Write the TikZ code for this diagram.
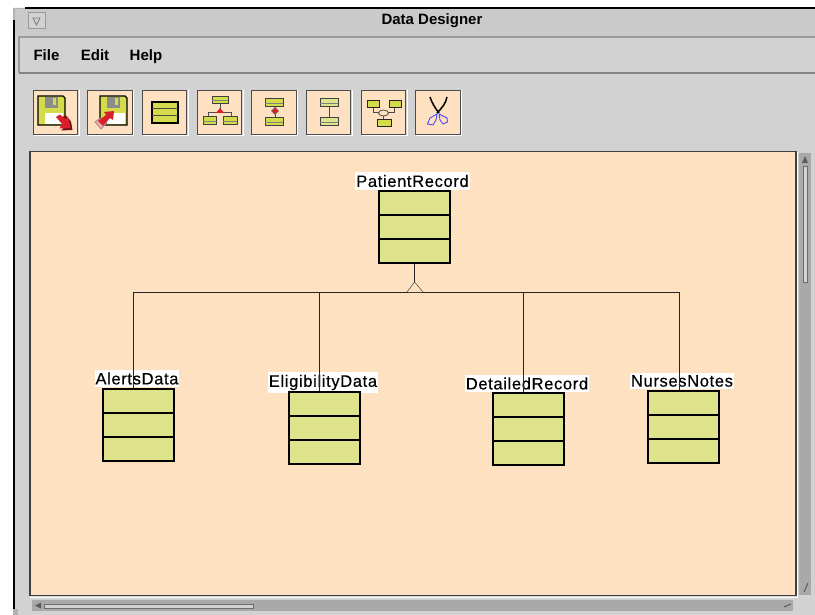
\documentclass[tikz,border=0pt]{standalone}
\usepackage{fontspec}
\setmainfont{Liberation Sans}
\newfontfamily\screenfont[LetterSpace=4, FakeBold=0.4]{Liberation Sans}
\usetikzlibrary{shapes, shapes.geometric}
\definecolor{peach}{HTML}{FEE1C1}
\definecolor{panel}{HTML}{D2D2D2}
\definecolor{edge}{HTML}{9A9A9A}
\definecolor{boxfill}{HTML}{DFE38B}
\definecolor{iconfill}{HTML}{D4DC4C}
\definecolor{arrowred}{HTML}{D9202A}
\tikzset{
  classbox/.style = {draw, line width = 2, fill = boxfill, minimum width = 71, minimum height = 72, inner sep = 0},
  classname/.style = {fill = white, inner xsep = 1, inner ysep = 2.5, font = \screenfont\fontsize{16.5}{18}\selectfont},
  menuname/.style = {inner sep = 0, anchor = base, font = \bfseries\fontsize{15}{17}\selectfont},
  toolbtn/.style = {draw = black!70, line width = 1.2, fill = peach, minimum size = 44.5, inner sep = 0},
  minibox/.style = {draw = black!75, line width = 1, fill = iconfill},
  miniline/.style = {draw = black!70, line width = 1},
  scrolled/.style = {fill = panel, draw = edge!70!black, line width = 1}
}
\begin{document}
\begin{tikzpicture}[x = 1pt, y = -1pt]
      \useasboundingbox (0, 0) rectangle (815, 615);
      % window and panels
      \fill[panel] (14, 8) rectangle (815, 615);
      \fill[white] (0, 0) rectangle (13, 615);
      \fill[panel!85!black] (13, 8) -- (25, 8) -- (25, 12) -- (18, 12) -- (18, 20) -- (13, 20) -- cycle;
      \fill[panel!85!black] (13, 609) rectangle (18, 615);
      \draw[line width = 2] (14, 20) -- (14, 609);
      \draw[line width = 2] (25, 8) -- (815, 8);
      \fill[panel!96!black] (15, 9) rectangle (815, 36);
      \draw[edge, line width = 1.5] (19, 73) -- (19, 37) -- (815, 37);
      \draw[edge!85!black, line width = 1.5] (19, 73) -- (815, 73);
      \node[draw = edge, line width = 1, fill = panel, minimum width = 17, minimum height = 16, inner sep = 0] (winbtn) at (36.5, 21) {};
      \draw[edge!80!black, line width = .7] (33, 18) -- (40, 18) -- (36.5, 25) -- cycle;
      \node[menuname] (title) at (432, 25) {Data Designer};
      \node[menuname] (file) at (46.5, 61) {File};
      \node[menuname] (edit) at (95, 61) {Edit};
      \node[menuname] (help) at (146, 61) {Help};
      % toolbar buttons
      \foreach \n/\x in {savebtn/55.5, loadbtn/110, classbtn/164.5, inhbtn/219.5, aggbtn/274, linkbtn/328.5, ternbtn/383.5, cutbtn/438}{
        \draw[white, line width = 1] (\x + 23.5, 90) -- (\x + 23.5, 136) -- (\x - 22, 136);
        \node[toolbtn] (\n) at (\x, 112.5) {};
      }
      % floppy icons
      \foreach \s in {0, 62}{
        \draw[black, line width = 1.2, fill = iconfill] (38 + \s, 96) -- (63 + \s, 96) -- (65 + \s, 98) -- (65 + \s, 125) -- (38 + \s, 125) -- cycle;
        \fill[black!45] (45 + \s, 97) rectangle (58 + \s, 108);
        \fill[iconfill] (53 + \s, 98) rectangle (56 + \s, 105);
        \fill[white] (45 + \s, 113) rectangle (63 + \s, 124);
      }
      \fill[arrowred!55!black] (58, 118.5) -- (66, 115.5) -- (71, 121.5) -- (72.5, 130) -- (61, 130.5) -- (66.5, 125.5) -- cycle;
      \fill[arrowred] (56, 117) -- (60, 114.5) -- (65, 119) -- (68, 117) -- (70.5, 128) -- (59.5, 128.5) -- (62, 124) -- cycle;
      \fill[arrowred!40!white, draw = black!50, line width = .5] (95, 122) -- (100, 118) -- (107, 123) -- (101, 129) -- cycle;
      \fill[arrowred] (98, 121) -- (106, 115) -- (104, 112) -- (114, 111) -- (113, 120) -- (110, 118) -- (103, 126) -- cycle;
      % class icon
      \draw[black, line width = 2, fill = iconfill] (152, 102) rectangle (178, 123);
      \draw[black!70, line width = 1] (152, 109) -- (178, 109) (152, 116) -- (178, 116);
      % inheritance icon
      \draw[miniline] (220, 104) -- (220, 109) (208, 117) -- (208, 113) -- (231, 113) -- (231, 117);
      \fill[arrowred] (220, 108) -- (224, 113) -- (216, 113) -- cycle;
      \foreach \xa/\ya/\xb/\yb in {212/97/228/104, 203/117/216/125, 223/117/237/125}{
        \draw[minibox] (\xa, \ya) rectangle (\xb, \yb);
        \draw[black!50, line width = .6] (\xa, \ya / 2 + \yb / 2) -- (\xb, \ya / 2 + \yb / 2);
      }
      % aggregation icon
      \draw[miniline] (275, 107) -- (275, 118);
      \fill[arrowred, draw = black!60, line width = .5] (275, 107.5) -- (278.5, 111) -- (275, 114.5) -- (271.5, 111) -- cycle;
      \foreach \y in {99, 118}{
        \draw[minibox] (265, \y) rectangle (283, \y + 8);
        \draw[black!50, line width = .6] (265, \y + 4) -- (283, \y + 4);
      }
      % link icon
      \draw[miniline] (329, 107) -- (329, 118);
      \foreach \y in {99, 118}{
        \draw[minibox, fill = boxfill] (320, \y) rectangle (338, \y + 8);
        \draw[black!50, line width = .6] (320, \y + 4) -- (338, \y + 4);
      }
      % ternary icon
      \draw[miniline] (373, 108) -- (373, 113) -- (394, 113) -- (394, 108) (383.5, 116) -- (383.5, 120);
      \draw[black!70, line width = .8, fill = peach] (383.5, 113) ellipse (5 and 3);
      \foreach \xa/\ya/\xb/\yb in {367/101/379/108, 389/101/401/108, 377/120/391/127}{
        \draw[minibox, draw = black!85] (\xa, \ya) rectangle (\xb, \yb);
      }
      % scissors icon
      \draw[black, line width = 1.5] (430, 97) .. controls (432, 103) and (435, 108) .. (439, 113);
      \draw[black, line width = 1.5] (447, 97) .. controls (446, 103) and (442, 108) .. (437, 113);
      \draw[blue!70!white, line width = .9] (437, 114) -- (430, 118) -- (427.5, 124) -- (433, 125) -- (436, 120) -- cycle;
      \draw[blue!70!white, line width = .9] (439, 114) -- (447, 118) -- (447.5, 122) -- (443, 124) -- (440, 120) -- cycle;
      % canvas and scrollbars
      \draw[black!75, line width = 1.2, fill = peach] (30, 151.5) rectangle (796, 595.5);
      \draw[white, line width = 1] (30, 597) -- (797, 597) -- (797, 152);
      \fill[edge!85] (799, 153) rectangle (811, 595);
      \draw[scrolled] (803, 167) rectangle (807, 283);
      \fill[edge!60!black] (805, 156) -- (808, 163) -- (802, 163) -- cycle;
      \draw[edge!60!black, line width = 1] (808, 583) -- (804, 592);
      \fill[edge!85] (32, 600) rectangle (793, 611);
      \draw[scrolled] (44, 604) rectangle (253, 608);
      \fill[edge!60!black] (35, 605.5) -- (41, 602.5) -- (41, 608.5) -- cycle;
      \draw[edge!60!black, line width = 1] (784, 607) -- (791, 604);
      % classes
      \foreach \n/\x/\y/\t/\lx/\ly in {patient/414.5/227/PatientRecord/412.5/181, alerts/138.5/425/AlertsData/137/378.5, eligibility/324.5/428/EligibilityData/323/382.5, detailed/528.5/429/DetailedRecord/527/383.5, nurses/683.5/427/NursesNotes/682/381}{
        \node[classname] (\n name) at (\lx, \ly) {\t};
        \node[classbox] (\n) at (\x, \y) {};
        \draw[line width = 2] (\x - 35.5, \y - 12) -- (\x + 35.5, \y - 12) (\x - 35.5, \y + 12) -- (\x + 35.5, \y + 12);
      }
      % aggregation tree
      \coordinate (forktop) at (414.5, 282);
      \coordinate (forkleft) at (407, 292);
      \coordinate (forkright) at (423, 292);
      \coordinate (barA) at (133.5, 292);
      \coordinate (barB) at (319.5, 292);
      \coordinate (barC) at (523.5, 292);
      \coordinate (barD) at (679, 292);
      \draw[black!85] (barA) -- (barD);
      \draw[black!85] (patient.south) -- (forktop);
      \draw[black!85, fill = peach] (forkleft) -- (forktop) -- (forkright);
      \draw[black!85] (barA) -- (barA |- alerts.north);
      \draw[black!85] (barB) -- (barB |- eligibility.north);
      \draw[black!85] (barC) -- (barC |- detailed.north);
      \draw[black!85] (barD) -- (barD |- nurses.north);
    \end{tikzpicture}
\end{document}
